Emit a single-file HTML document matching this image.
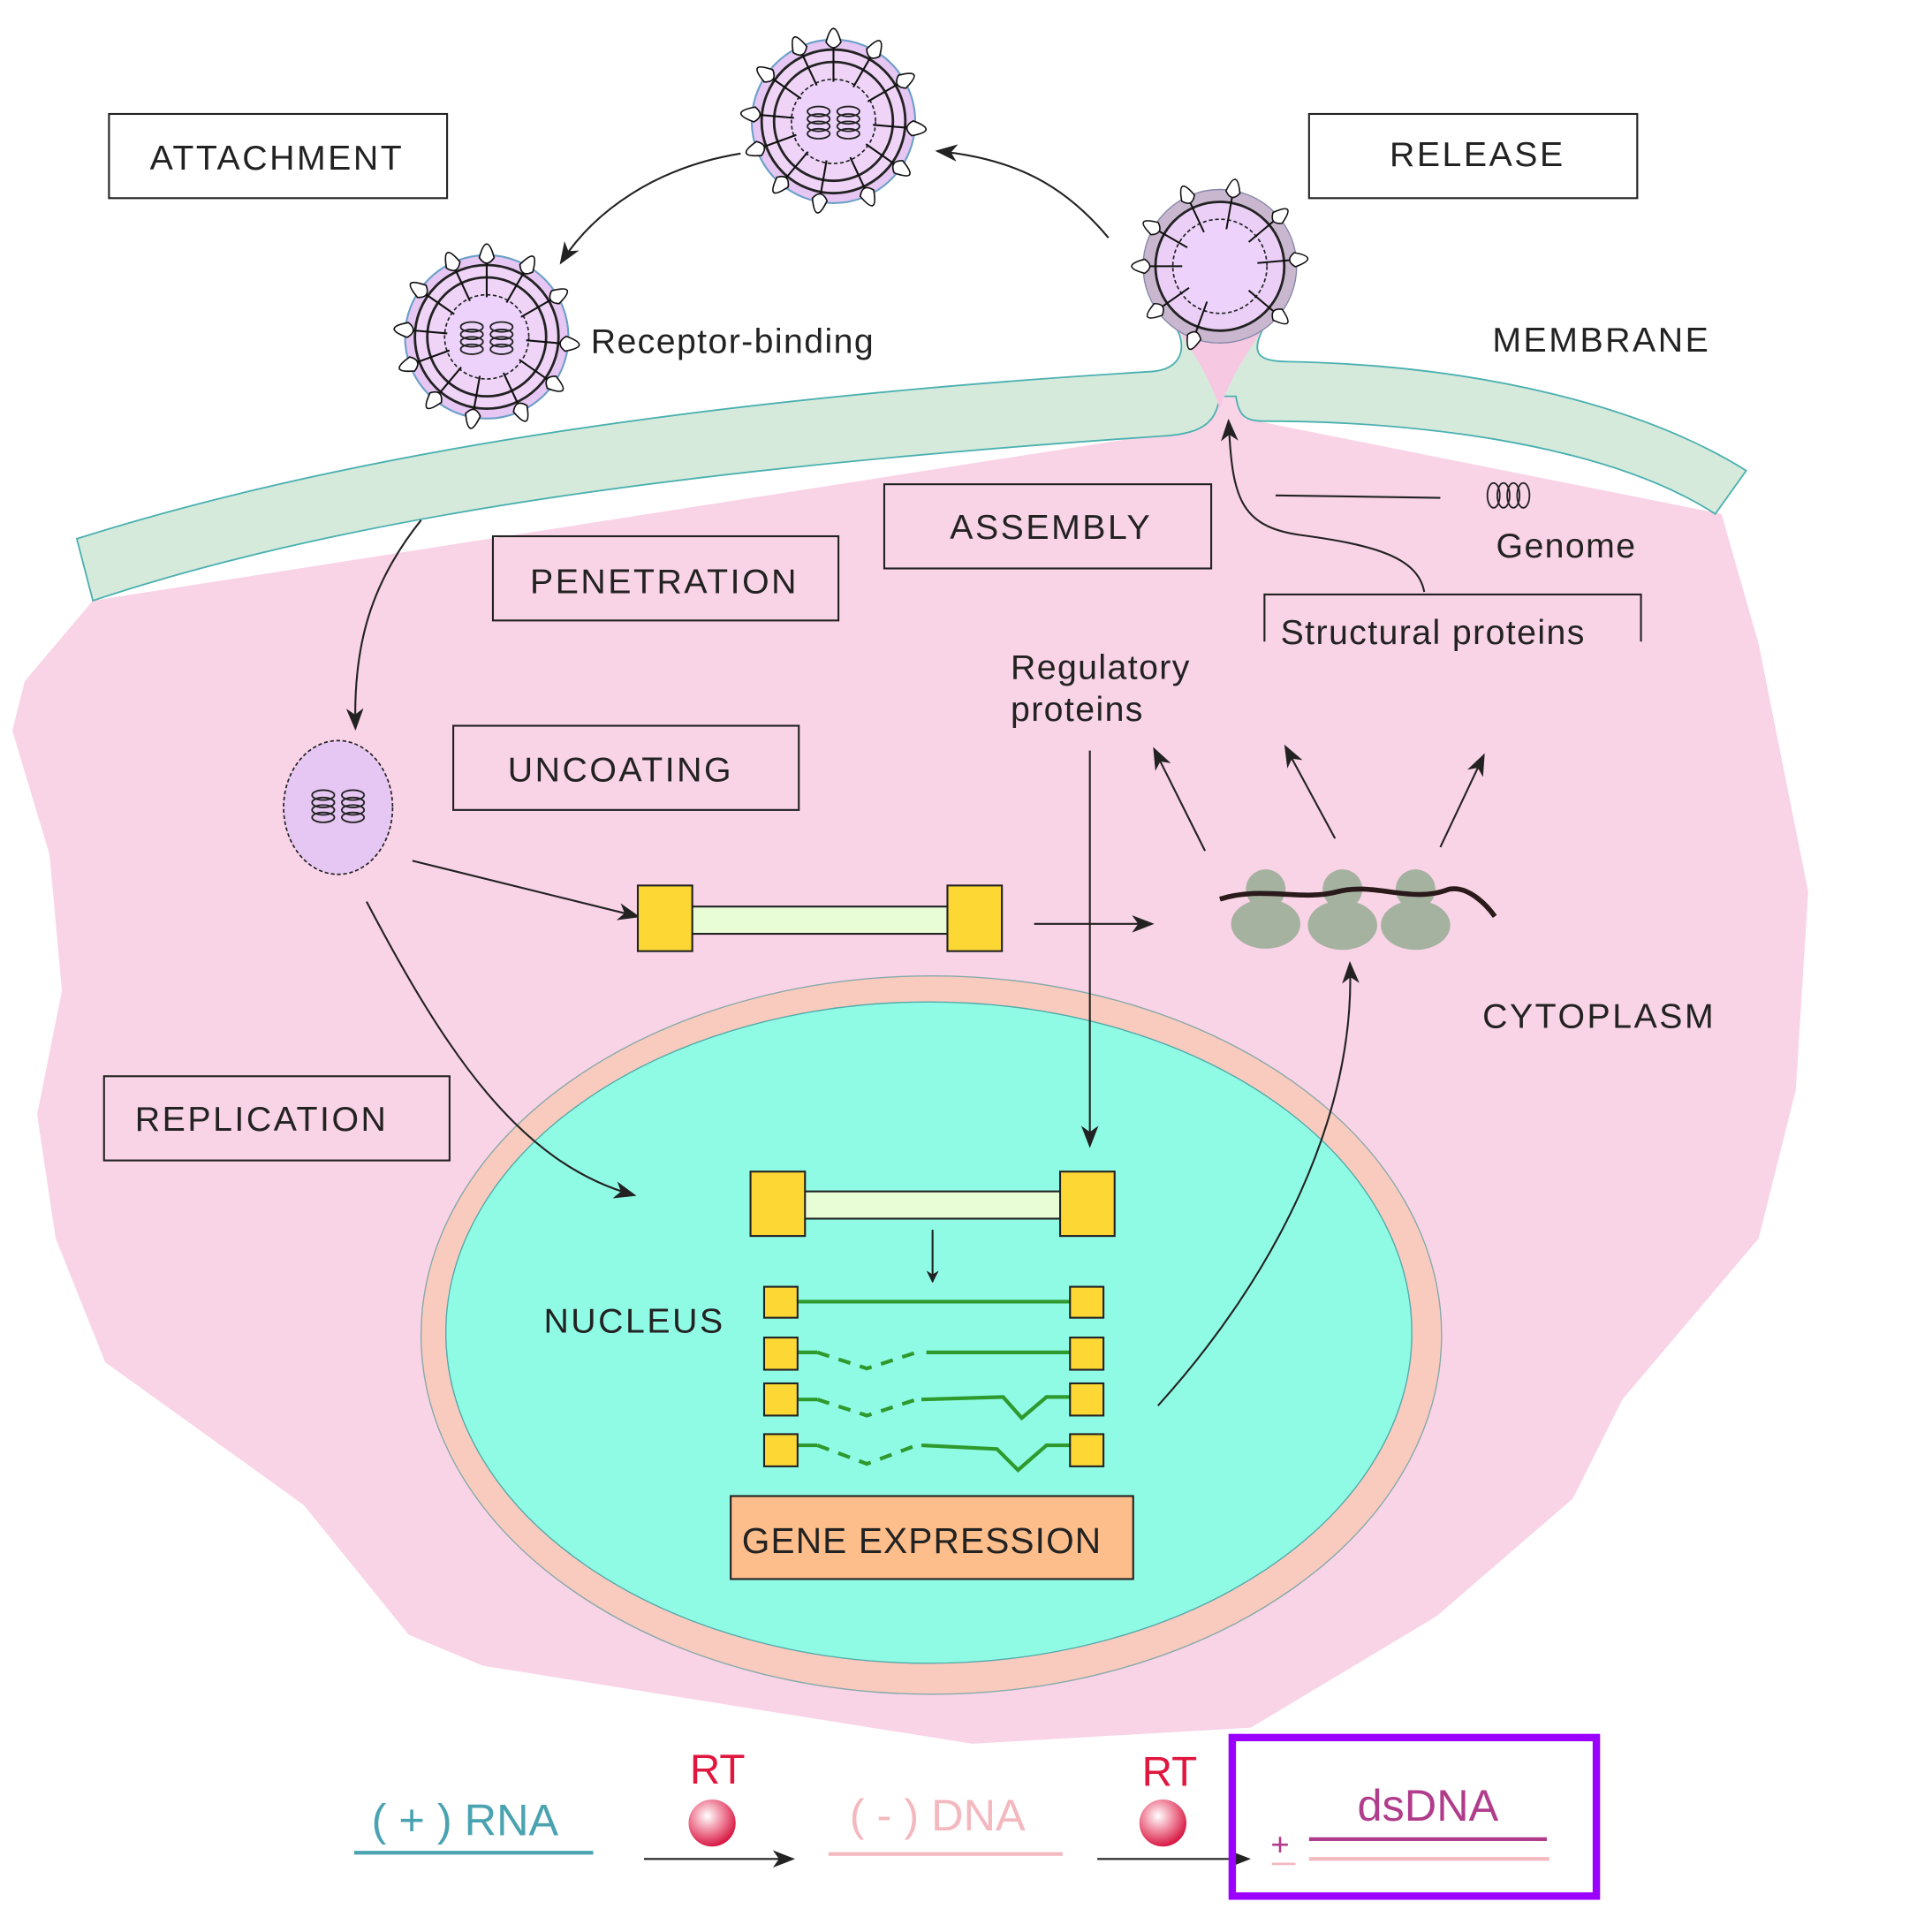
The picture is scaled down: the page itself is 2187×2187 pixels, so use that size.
<!DOCTYPE html>
<html><head><meta charset="utf-8"><style>html,body{margin:0;padding:0;background:#fff}svg{display:block}text{font-family:"Liberation Sans",sans-serif}</style></head><body>
<svg width="2187" height="2187" viewBox="0 0 1560 1560" xmlns="http://www.w3.org/2000/svg">
<defs>
<marker id="a" markerWidth="10" markerHeight="10" refX="9" refY="5" orient="auto" markerUnits="userSpaceOnUse" viewBox="0 0 10 10"><path d="M0,0 L10,5 L0,10 L3,5z" fill="#222"/></marker>
<marker id="b" markerWidth="18" markerHeight="18" refX="16" refY="9" orient="auto" markerUnits="userSpaceOnUse" viewBox="0 0 18 18"><path d="M0,2 L18,9 L0,16 L5,9z" fill="#222"/></marker>
<g id="spk"><line x1="0" y1="-32" x2="0" y2="-62" stroke="#111" stroke-width="1.5"/><path d="M-6,-64 Q0,-86 6,-64 Q0,-55 -6,-64z" fill="#fff" stroke="#111" stroke-width="1.2"/></g>
<g id="vir">
<circle r="66" fill="#e6c6f2" stroke="#6aa0c8" stroke-width="1.5"/>
<circle r="58" fill="#efd4f7" stroke="#222" stroke-width="2"/>
<circle r="48" fill="none" stroke="#222" stroke-width="2"/>
<circle r="34" fill="#edd3fb" stroke="#222" stroke-width="1.2" stroke-dasharray="3,2"/>
<use href="#spk" transform="rotate(0)"/><use href="#spk" transform="rotate(30)"/><use href="#spk" transform="rotate(60)"/><use href="#spk" transform="rotate(95)"/><use href="#spk" transform="rotate(125)"/><use href="#spk" transform="rotate(155)"/><use href="#spk" transform="rotate(190)"/><use href="#spk" transform="rotate(220)"/><use href="#spk" transform="rotate(250)"/><use href="#spk" transform="rotate(275)"/><use href="#spk" transform="rotate(305)"/><use href="#spk" transform="rotate(335)"/>
</g>
<g id="coil" fill="none" stroke="#222" stroke-width="1.3"><ellipse cx="-12" cy="-8" rx="9" ry="4"/><ellipse cx="-12" cy="-2" rx="9" ry="4"/><ellipse cx="-12" cy="4" rx="9" ry="4"/><ellipse cx="-12" cy="10" rx="9" ry="4"/><ellipse cx="12" cy="-8" rx="9" ry="4"/><ellipse cx="12" cy="-2" rx="9" ry="4"/><ellipse cx="12" cy="4" rx="9" ry="4"/><ellipse cx="12" cy="10" rx="9" ry="4"/></g>
</defs>
<rect width="1560" height="1560" fill="#fff"/>
<path d="M75,485 L20,550 L10,590 L40,690 L50,800 L30,900 L45,1000 L85,1100 L245,1215 L330,1320 L390,1345 L785,1408 L1010,1395 L1160,1305 L1270,1210 L1310,1130 L1420,1000 L1450,880 L1460,720 L1420,520 L1390,415 L1005,338 L995,290 L960,290 L940,350 Z" fill="#f9d3e6"/>
<path d="M62,435 C300,360 600,320 930,300 C955,298 958,280 950,265 L1020,265 C1010,285 1015,292 1040,292 C1200,295 1330,330 1410,380 L1385,415 C1300,360 1150,340 1020,340 C1005,340 1000,335 998,320 L985,320 C982,338 975,350 940,352 C600,375 300,410 75,485 Z" fill="#d5eadb" stroke="#4bb0b0" stroke-width="1.3"/>
<path d="M950,265 C960,280 975,300 985,330 C995,300 1010,282 1020,265 Z" fill="#f6c8e2"/>
<ellipse cx="752" cy="1078" rx="412" ry="290" fill="#f9cbbe" stroke="#8aa" stroke-width="1"/>
<ellipse cx="750" cy="1076" rx="390" ry="267" fill="#90fbe5" stroke="#5aa" stroke-width="1"/>
<use href="#vir" x="673" y="98"/><use href="#coil" x="673" y="98"/>
<use href="#vir" x="393" y="272"/><use href="#coil" x="393" y="272"/>
<g transform="translate(985,215)"><circle r="62" fill="#c9b7cf" stroke="#88a" stroke-width="1"/><circle r="52" fill="#ebcff7" stroke="#222" stroke-width="2"/><circle r="38" fill="#edd3fb" stroke="#222" stroke-width="1.2" stroke-dasharray="3,2"/>
<use href="#spk" transform="rotate(-60) scale(0.95)"/><use href="#spk" transform="rotate(-25) scale(0.95)"/><use href="#spk" transform="rotate(10) scale(0.95)"/><use href="#spk" transform="rotate(50) scale(0.95)"/><use href="#spk" transform="rotate(85) scale(0.95)"/><use href="#spk" transform="rotate(-90) scale(0.95)"/><use href="#spk" transform="rotate(-125) scale(0.95)"/><use href="#spk" transform="rotate(-160) scale(0.95)"/><use href="#spk" transform="rotate(130) scale(0.95)"/></g>
<ellipse cx="273" cy="652" rx="44" ry="54" fill="#e6c6f2" stroke="#222" stroke-width="1.2" stroke-dasharray="3,2"/><use href="#coil" x="273" y="650"/>
<g fill="none" stroke="#222" stroke-width="1.5">
<rect x="88" y="92" width="273" height="68"/><rect x="1057" y="92" width="265" height="68"/><rect x="714" y="391" width="264" height="68"/><rect x="398" y="433" width="279" height="68"/><rect x="366" y="586" width="279" height="68"/><rect x="84" y="869" width="279" height="68"/>
<path d="M1021,518 L1021,480 L1325,480 L1325,518"/>
</g>
<g font-size="28" fill="#222" letter-spacing="1.8">
<text x="121" y="137">ATTACHMENT</text><text x="1122" y="134">RELEASE</text><text x="767" y="435">ASSEMBLY</text><text x="428" y="479">PENETRATION</text><text x="410" y="631">UNCOATING</text><text x="109" y="913">REPLICATION</text>
<text x="1205" y="284">MEMBRANE</text><text x="1197" y="830">CYTOPLASM</text><text x="439" y="1076">NUCLEUS</text>
</g>
<g font-size="28" fill="#222" letter-spacing="1">
<text x="477" y="285">Receptor-binding</text><text x="1208" y="450">Genome</text><text x="1034" y="520">Structural proteins</text><text x="816" y="548">Regulatory</text><text x="816" y="582">proteins</text>
</g>
<g fill="none" stroke="#222" stroke-width="1.3"><ellipse cx="1206" cy="400" rx="5" ry="10"/><ellipse cx="1214" cy="400" rx="5" ry="10"/><ellipse cx="1222" cy="400" rx="5" ry="10"/><ellipse cx="1230" cy="400" rx="5" ry="10"/></g>
<line x1="1030" y1="400" x2="1163" y2="402" stroke="#222" stroke-width="1.5"/>
<g fill="none" stroke="#222" stroke-width="1.5">
<path d="M598,124 C530,135 480,170 453,212" marker-end="url(#b)"/>
<path d="M895,192 C860,150 820,128 757,122" marker-end="url(#b)"/>
<path d="M340,420 C300,470 285,520 287,588" marker-end="url(#b)"/>
<path d="M333,695 L515,740" marker-end="url(#b)"/>
<path d="M296,728 C360,850 420,940 512,965" marker-end="url(#b)"/>
<path d="M835,746 L930,746" marker-end="url(#b)"/>
<path d="M880,606 L880,925" marker-end="url(#b)"/>
<path d="M753,993 L753,1035" marker-end="url(#a)"/>
<path d="M935,1135 C1030,1030 1095,900 1090,778" marker-end="url(#b)"/>
<path d="M973,687 L932,605" marker-end="url(#b)"/>
<path d="M1078,677 L1038,603" marker-end="url(#b)"/>
<path d="M1163,684 L1198,610" marker-end="url(#b)"/>
<path d="M1150,478 C1145,450 1110,440 1050,432 C1000,425 995,400 992,340" marker-end="url(#b)"/>
</g>
<rect x="558" y="732" width="210" height="22" fill="#e8fcd6" stroke="#222" stroke-width="1.5"/>
<rect x="515" y="715" width="44" height="53" fill="#fdd835" stroke="#222" stroke-width="1.5"/><rect x="765" y="715" width="44" height="53" fill="#fdd835" stroke="#222" stroke-width="1.5"/>
<rect x="648" y="962" width="210" height="22" fill="#e8fcd6" stroke="#222" stroke-width="1.5"/>
<rect x="606" y="946" width="44" height="52" fill="#fdd835" stroke="#222" stroke-width="1.5"/><rect x="856" y="946" width="44" height="52" fill="#fdd835" stroke="#222" stroke-width="1.5"/>
<g fill="none" stroke="#2e9a2e" stroke-width="3">
<path d="M644,1051 L864,1051"/>
<path d="M644,1092 L660,1092" /><path d="M660,1092 L700,1105 L740,1092" stroke-dasharray="10,8"/><path d="M748,1092 L864,1092"/>
<path d="M644,1130 L660,1130"/><path d="M660,1130 L700,1143 L740,1130" stroke-dasharray="10,8"/><path d="M744,1130 L810,1128 L825,1145 L845,1128 L864,1128"/>
<path d="M644,1167 L660,1167"/><path d="M660,1167 L700,1182 L740,1167" stroke-dasharray="10,8"/><path d="M744,1167 L805,1170 L822,1187 L845,1167 L864,1167"/>
</g>
<g fill="#fdd835" stroke="#222" stroke-width="1.5">
<rect x="617" y="1039" width="27" height="25"/><rect x="864" y="1039" width="27" height="25"/>
<rect x="617" y="1080" width="27" height="26"/><rect x="864" y="1080" width="27" height="26"/>
<rect x="617" y="1117" width="27" height="26"/><rect x="864" y="1117" width="27" height="26"/>
<rect x="617" y="1158" width="27" height="26"/><rect x="864" y="1158" width="27" height="26"/>
</g>
<rect x="590" y="1208" width="325" height="67" fill="#fdbe8c" stroke="#222" stroke-width="1.5"/>
<text x="599" y="1254" font-size="29" fill="#222" letter-spacing="0.8">GENE EXPRESSION</text>
<g fill="#a5b2a0"><circle cx="1022" cy="718" r="16"/><circle cx="1084" cy="718" r="16"/><circle cx="1143" cy="718" r="16"/><ellipse cx="1022" cy="746" rx="28" ry="20"/><ellipse cx="1084" cy="747" rx="28" ry="20"/><ellipse cx="1143" cy="747" rx="28" ry="20"/></g>
<path d="M985,726 C1020,715 1050,728 1080,720 C1110,712 1140,730 1170,718 C1185,715 1200,730 1207,740" fill="none" stroke="#2a1a1a" stroke-width="4"/>
<text x="300" y="1482" font-size="36" fill="#4aa3b0">( + ) RNA</text>
<line x1="286" y1="1496" x2="479" y2="1496" stroke="#4aa3b0" stroke-width="3"/>
<text x="557" y="1440" font-size="34" fill="#e0163e">RT</text>
<text x="922" y="1442" font-size="34" fill="#e0163e">RT</text>
<defs><radialGradient id="g" cx="0.4" cy="0.35" r="0.65"><stop offset="0" stop-color="#fff"/><stop offset="0.5" stop-color="#f08aa0"/><stop offset="1" stop-color="#d81a45"/></radialGradient></defs>
<circle cx="575" cy="1472" r="19" fill="url(#g)"/><circle cx="939" cy="1472" r="19" fill="url(#g)"/>
<line x1="520" y1="1501" x2="640" y2="1501" stroke="#222" stroke-width="1.5" marker-end="url(#b)"/>
<line x1="886" y1="1501" x2="1008" y2="1501" stroke="#222" stroke-width="1.5" marker-end="url(#b)"/>
<text x="686" y="1478" font-size="36" fill="#f4b8bf">( - ) DNA</text>
<line x1="669" y1="1497" x2="858" y2="1497" stroke="#f4b8bf" stroke-width="3"/>
<rect x="995" y="1403" width="294" height="128" fill="none" stroke="#9b00ff" stroke-width="6"/>
<text x="1096" y="1470" font-size="36" fill="#b03c8c">dsDNA</text>
<line x1="1057" y1="1485" x2="1249" y2="1485" stroke="#b03c8c" stroke-width="3"/>
<line x1="1057" y1="1501" x2="1251" y2="1501" stroke="#f4b8bf" stroke-width="3"/>
<text x="1026" y="1498" font-size="26" fill="#b03c8c">+</text>
<line x1="1027" y1="1505" x2="1046" y2="1505" stroke="#f4b8bf" stroke-width="2"/>
</svg>
</body></html>
